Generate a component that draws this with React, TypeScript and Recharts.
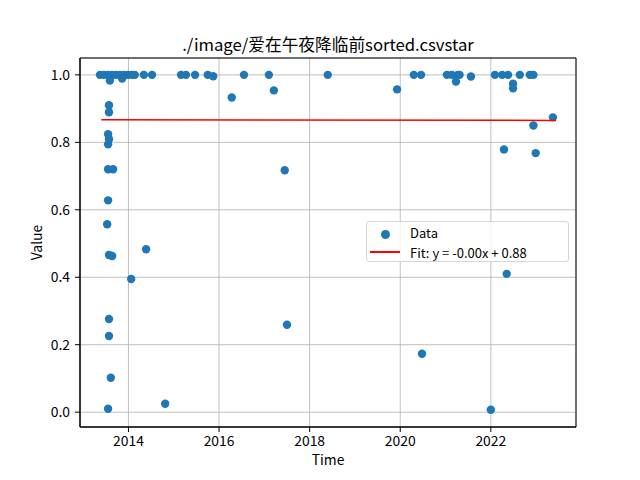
import { CartesianGrid, Label, ReferenceArea, Scatter, ScatterChart, XAxis, YAxis } from "recharts";

const FONT = '"Noto Sans CJK SC", "DejaVu Sans", sans-serif';

// decimal years of each rating
const timeYears = [
  2013.37, 2013.46, 2013.55, 2013.64, 2013.72, 2013.81, 2013.9, 2013.99, 2014.08, 2014.14,
  2014.34, 2014.52, 2015.16, 2015.27, 2015.47, 2015.75, 2015.87, 2016.55, 2017.1, 2018.4,
  2020.3, 2020.46, 2021.03, 2021.14, 2021.27, 2021.31, 2021.56, 2022.09, 2022.25, 2022.38,
  2022.64, 2022.86, 2022.94,
  2013.59, 2013.86, 2021.23, 2022.49, 2022.49,
  2013.57, 2013.57, 2013.55, 2013.57, 2013.55, 2013.55, 2013.66, 2013.55, 2013.53, 2013.57,
  2013.64, 2014.39, 2014.06, 2013.57, 2013.57, 2013.61, 2013.55, 2014.81,
  2016.28, 2017.21, 2017.45, 2017.5, 2019.93, 2020.48, 2022.0, 2022.29, 2022.35, 2022.94,
  2022.99, 2023.37,
];
const values = [
  1.0, 1.0, 1.0, 1.0, 1.0, 1.0, 1.0, 1.0, 1.0, 1.0,
  1.0, 1.0, 1.0, 1.0, 1.0, 1.0, 0.996, 1.0, 1.0, 1.0,
  1.0, 1.0, 1.0, 1.0, 1.0, 1.0, 0.995, 1.0, 1.0, 1.0,
  1.0, 1.0, 1.0,
  0.983, 0.989, 0.98, 0.974, 0.96,
  0.91, 0.889, 0.824, 0.809, 0.794, 0.72, 0.72, 0.628, 0.557, 0.466,
  0.463, 0.483, 0.395, 0.276, 0.226, 0.102, 0.01, 0.025,
  0.933, 0.954, 0.717, 0.259, 0.957, 0.173, 0.007, 0.779, 0.41, 0.85,
  0.768, 0.874,
];

const fitYears = [2013.4, 2023.44];
const fitValues = [0.867, 0.865];

const xTicks = [2014, 2016, 2018, 2020, 2022];
const yTicks = [0, 0.2, 0.4, 0.6, 0.8, 1.0];

const points = timeYears.map((t, i) => ({ t, v: values[i] }));
const fitPoints = fitYears.map((t, i) => ({ t, v: fitValues[i] }));

const X_DOMAIN = [2012.93, 2023.88];
const Y_DOMAIN = [-0.044, 1.05];

const tickStyle = { fill: "#000", fontSize: 13.9, fontFamily: FONT };

function Dot(props: any) {
  return <circle cx={props.cx} cy={props.cy} r={4.2} fill="#1f77b4" />;
}

export default function App() {
  return (
    <div style={{ position: "relative", width: 640, height: 480, background: "#fff", fontFamily: FONT }}>
      <style>{`body{margin:0}`}</style>
      <ScatterChart width={640} height={480} margin={{ top: 58, right: 64, left: 0, bottom: 0 }}>
        <XAxis
          dataKey="t"
          type="number"
          domain={X_DOMAIN}
          allowDataOverflow
          ticks={xTicks}
          tickFormatter={(v) => String(v)}
          height={53}
          tickSize={5}
          tickMargin={4}
          tick={tickStyle}
          tickLine={{ stroke: "#000" }}
          axisLine={{ stroke: "#000" }}
        >
          <Label value="Time" position="insideBottom" offset={15} style={{ fill: "#000", fontSize: 13.9, fontFamily: FONT }} />
        </XAxis>
        <YAxis
          dataKey="v"
          type="number"
          domain={Y_DOMAIN}
          allowDataOverflow
          ticks={yTicks}
          tickFormatter={(v) => v.toFixed(1)}
          width={80}
          tickSize={5}
          tickMargin={5}
          tick={tickStyle}
          tickLine={{ stroke: "#000" }}
          axisLine={{ stroke: "#000" }}
        >
          <Label value="Value" angle={-90} position="insideLeft" offset={37} style={{ fill: "#000", fontSize: 13.9, fontFamily: FONT, textAnchor: "middle" }} />
        </YAxis>
        <Scatter name="Data" data={points} shape={Dot} isAnimationActive={false} />
        <CartesianGrid stroke="#b0b0b0" strokeWidth={0.8} />
        <Scatter
          name="Fit"
          data={fitPoints}
          line={{ stroke: "#ff0000", strokeWidth: 1.5 }}
          shape={() => <g />}
          isAnimationActive={false}
        />
        <ReferenceArea
          x1={X_DOMAIN[0]}
          x2={X_DOMAIN[1]}
          y1={Y_DOMAIN[0]}
          y2={Y_DOMAIN[1]}
          fill="none"
          stroke="#000"
          strokeWidth={1}
          ifOverflow="visible"
        />
      </ScatterChart>

      <div
        style={{
          position: "absolute",
          left: 80,
          top: 34,
          width: 496,
          textAlign: "center",
          fontSize: 16.7,
          lineHeight: "20px",
          color: "#000",
        }}
      >
        ./image/爱在午夜降临前sorted.csvstar
      </div>

      <div
        style={{
          position: "absolute",
          left: 366,
          top: 221,
          width: 203,
          height: 41,
          boxSizing: "border-box",
          border: "1px solid #d6d6d6",
          borderRadius: 3,
          background: "rgba(255,255,255,0.8)",
          fontSize: 13,
          color: "#000",
        }}
      >
        <div style={{ position: "absolute", left: 14, top: 8, width: 9, height: 9, borderRadius: "50%", background: "#1f77b4" }} />
        <div style={{ position: "absolute", left: 43, top: 3, lineHeight: "16px" }}>Data</div>
        <div style={{ position: "absolute", left: 3, top: 29, width: 30, height: 2, background: "#ff0000" }} />
        <div style={{ position: "absolute", left: 43, top: 23, lineHeight: "16px", whiteSpace: "nowrap" }}>
          Fit: y = -0.00x + 0.88
        </div>
      </div>
    </div>
  );
}
